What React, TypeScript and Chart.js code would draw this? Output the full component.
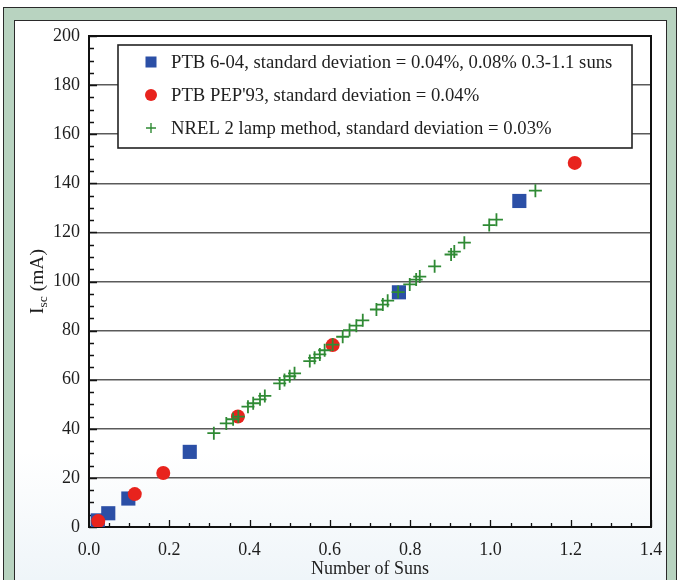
import React, { useEffect, useRef } from "react";
import { Chart, registerables } from "chart.js";

Chart.register(...registerables);

// ---- data ----
const PTB604_X = [0.022, 0.048, 0.098, 0.251, 0.772, 1.072];
const PTB604_Y = [2.7, 5.6, 11.6, 30.6, 95.6, 132.8];

const PEP93_X = [0.023, 0.114, 0.185, 0.371, 0.607, 1.21];
const PEP93_Y = [2.4, 13.4, 22.0, 45.0, 74.1, 148.3];

const NREL_X = [
  0.311, 0.342, 0.359, 0.372, 0.396, 0.409, 0.426, 0.438, 0.475, 0.487, 0.5,
  0.512, 0.55, 0.562, 0.575, 0.587, 0.607, 0.632, 0.649, 0.666, 0.682, 0.716,
  0.732, 0.744, 0.77, 0.799, 0.815, 0.824, 0.861, 0.902, 0.91, 0.935, 0.997,
  1.015, 1.112,
];
const NREL_Y = [
  38.2, 42.2, 43.9, 45.0, 49.0, 50.4, 52.0, 53.4, 58.5, 59.9, 61.4, 62.6, 67.6,
  68.9, 70.3, 72.0, 74.3, 77.5, 80.2, 82.0, 84.2, 88.6, 90.6, 92.2, 95.7, 98.8,
  100.8, 102.0, 106.2, 111.0, 112.2, 115.8, 123.0, 125.2, 137.0,
];

const LEGEND_LABELS = [
  "PTB 6-04, standard deviation = 0.04%, 0.08% 0.3-1.1 suns",
  "PTB PEP'93, standard deviation = 0.04%",
  "NREL 2 lamp method, standard deviation = 0.03%",
];

const X_TICKS = [0, 0.2, 0.4, 0.6, 0.8, 1.0, 1.2, 1.4];
const X_TICK_LABELS = ["0.0", "0.2", "0.4", "0.6", "0.8", "1.0", "1.2", "1.4"];
const Y_TICKS = [0, 20, 40, 60, 80, 100, 120, 140, 160, 180, 200];
const Y_TICK_LABELS = ["0", "20", "40", "60", "80", "100", "120", "140", "160", "180", "200"];
const X_MINOR_STEP = 0.05;
const Y_MINOR_STEP = 5;

const X_TITLE = "Number of Suns";
const Y_TITLE_MAIN = "I";
const Y_TITLE_SUB = "sc";
const Y_TITLE_REST = " (mA)";

// ---- styles ----
const BLUE = "#2b4fa6";
const RED = "#e8231d";
const GREEN = "#2f8a34";
const TEXT = "#1e1e1e";
const FAMILY = '"Liberation Serif", "DejaVu Serif", serif';

const framePlugin = {
  id: "frameTicksLegend",
  beforeDatasetsDraw(chart: any) {
    const { ctx, chartArea: a, scales } = chart;
    const xs = scales.x;
    const ys = scales.y;
    ctx.save();
    ctx.strokeStyle = "#111";
    ctx.lineWidth = 1.3;
    ctx.beginPath();
    const nx = Math.round((xs.max - xs.min) / X_MINOR_STEP);
    for (let i = 0; i <= nx; i++) {
      const v = xs.min + i * X_MINOR_STEP;
      const px = Math.round(xs.getPixelForValue(v)) + 0.5;
      const len = i % 4 === 0 ? 7 : 4;
      ctx.moveTo(px, a.bottom);
      ctx.lineTo(px, a.bottom - len);
    }
    const ny = Math.round((ys.max - ys.min) / Y_MINOR_STEP);
    for (let i = 0; i <= ny; i++) {
      const v = ys.min + i * Y_MINOR_STEP;
      const py = Math.round(ys.getPixelForValue(v)) + 0.5;
      const len = i % 4 === 0 ? 8 : 5;
      ctx.moveTo(a.left, py);
      ctx.lineTo(a.left + len, py);
    }
    ctx.stroke();
    ctx.lineWidth = 2;
    ctx.strokeStyle = "#111";
    ctx.strokeRect(a.left, a.top, a.right - a.left, a.bottom - a.top);
    ctx.restore();
  },
  afterDraw(chart: any) {
    const { ctx, chartArea: a } = chart;
    ctx.save();
    // legend box
    const bx = a.left + 29;
    const by = a.top + 9;
    const bw = 514;
    const bh = 103;
    ctx.fillStyle = "#ffffff";
    ctx.fillRect(bx, by, bw, bh);
    ctx.strokeStyle = "#222";
    ctx.lineWidth = 1.6;
    ctx.strokeRect(bx, by, bw, bh);
    const rows = [by + 17, by + 50, by + 83];
    const mx = bx + 33;
    // square
    ctx.fillStyle = BLUE;
    ctx.fillRect(mx - 5.5, rows[0] - 5.5, 11, 11);
    // circle
    ctx.fillStyle = RED;
    ctx.beginPath();
    ctx.arc(mx, rows[1], 6, 0, Math.PI * 2);
    ctx.fill();
    // cross
    ctx.strokeStyle = GREEN;
    ctx.lineWidth = 1.4;
    ctx.beginPath();
    ctx.moveTo(mx - 5, rows[2]);
    ctx.lineTo(mx + 5, rows[2]);
    ctx.moveTo(mx, rows[2] - 5);
    ctx.lineTo(mx, rows[2] + 5);
    ctx.stroke();
    ctx.fillStyle = TEXT;
    ctx.font = `18.7px ${FAMILY}`;
    ctx.textBaseline = "middle";
    ctx.textAlign = "left";
    LEGEND_LABELS.forEach((t, i) => ctx.fillText(t, bx + 53, rows[i] + 1));

    // y-axis title with subscript
    ctx.translate(38, (a.top + a.bottom) / 2);
    ctx.rotate(-Math.PI / 2);
    const big = `19.5px ${FAMILY}`;
    const small = `13.5px ${FAMILY}`;
    ctx.font = big;
    const w1 = ctx.measureText(Y_TITLE_MAIN).width;
    const w3 = ctx.measureText(Y_TITLE_REST).width;
    ctx.font = small;
    const w2 = ctx.measureText(Y_TITLE_SUB).width;
    const x0 = -(w1 + w2 + w3) / 2;
    ctx.textAlign = "left";
    ctx.textBaseline = "middle";
    ctx.font = big;
    ctx.fillText(Y_TITLE_MAIN, x0, 0);
    ctx.font = small;
    ctx.fillText(Y_TITLE_SUB, x0 + w1, 5.5);
    ctx.font = big;
    ctx.fillText(Y_TITLE_REST, x0 + w1 + w2, 0);
    ctx.restore();
  },
};

export default function App() {
  const ref = useRef<HTMLCanvasElement | null>(null);

  useEffect(() => {
    if (!ref.current) return;
    const font = { family: FAMILY, size: 18 };
    const chart = new Chart(ref.current, {
      type: "scatter",
      data: {
        datasets: [
          {
            label: LEGEND_LABELS[2],
            data: NREL_X.map((x, i) => ({ x, y: NREL_Y[i] })),
            pointStyle: "cross",
            pointRadius: 6.5,
            pointBorderColor: GREEN,
            pointBackgroundColor: GREEN,
            pointBorderWidth: 1.8,
            order: 0,
          },
          {
            label: LEGEND_LABELS[1],
            data: PEP93_X.map((x, i) => ({ x, y: PEP93_Y[i] })),
            pointStyle: "circle",
            pointRadius: 7,
            pointBorderColor: RED,
            pointBackgroundColor: RED,
            pointBorderWidth: 0,
            order: 1,
          },
          {
            label: LEGEND_LABELS[0],
            data: PTB604_X.map((x, i) => ({ x, y: PTB604_Y[i] })),
            pointStyle: "rect",
            pointRadius: 10,
            pointBorderColor: BLUE,
            pointBackgroundColor: BLUE,
            pointBorderWidth: 0,
            order: 2,
          },
        ],
      },
      options: {
        animation: false,
        responsive: false,
        layout: { padding: { left: 29, right: 29, top: 36, bottom: 0 } },
        plugins: { legend: { display: false }, tooltip: { enabled: false } },
        scales: {
          x: {
            type: "linear",
            min: 0,
            max: 1.4,
            afterBuildTicks: (s: any) => {
              s.ticks = X_TICKS.map((v) => ({ value: v }));
            },
            afterFit: (s: any) => {
              s.height = 53;
            },
            grid: { display: false, drawTicks: false },
            border: { display: false },
            ticks: {
              padding: 12,
              font,
              color: TEXT,
              autoSkip: false,
              maxRotation: 0,
              callback: (_v: any, i: number) => X_TICK_LABELS[i],
            },
            title: { display: true, text: X_TITLE, font, color: TEXT, padding: 0 },
          },
          y: {
            type: "linear",
            min: 0,
            max: 200,
            afterBuildTicks: (s: any) => {
              s.ticks = Y_TICKS.map((v) => ({ value: v }));
            },
            afterFit: (s: any) => {
              s.width = 60;
            },
            grid: { color: "#5a5a5a", lineWidth: 1.6, drawTicks: false },
            border: { display: false },
            ticks: {
              padding: 9,
              font,
              color: TEXT,
              autoSkip: false,
              callback: (_v: any, i: number) => Y_TICK_LABELS[i],
            },
          },
        },
      },
      plugins: [framePlugin],
    });
    return () => chart.destroy();
  }, []);

  return (
    <div style={{ position: "fixed", left: 0, top: 0, width: 680, height: 580, background: "#ffffff", overflow: "hidden" }}>
      <div
        style={{
          position: "absolute",
          left: 3,
          top: 7,
          width: 674,
          height: 600,
          background: "#b8d3c0",
          border: "1.5px solid #2a2a2a",
          boxSizing: "border-box",
        }}
      />
      <div
        style={{
          position: "absolute",
          left: 14,
          top: 20,
          width: 653,
          height: 600,
          background: "linear-gradient(to bottom, #ffffff 0%, #ffffff 72%, #eaf2f7 100%)",
          border: "1.5px solid #2a2a2a",
          boxSizing: "border-box",
        }}
      />
      <canvas ref={ref} width={680} height={580} style={{ position: "absolute", left: 0, top: 0, width: 680, height: 580 }} />
    </div>
  );
}
